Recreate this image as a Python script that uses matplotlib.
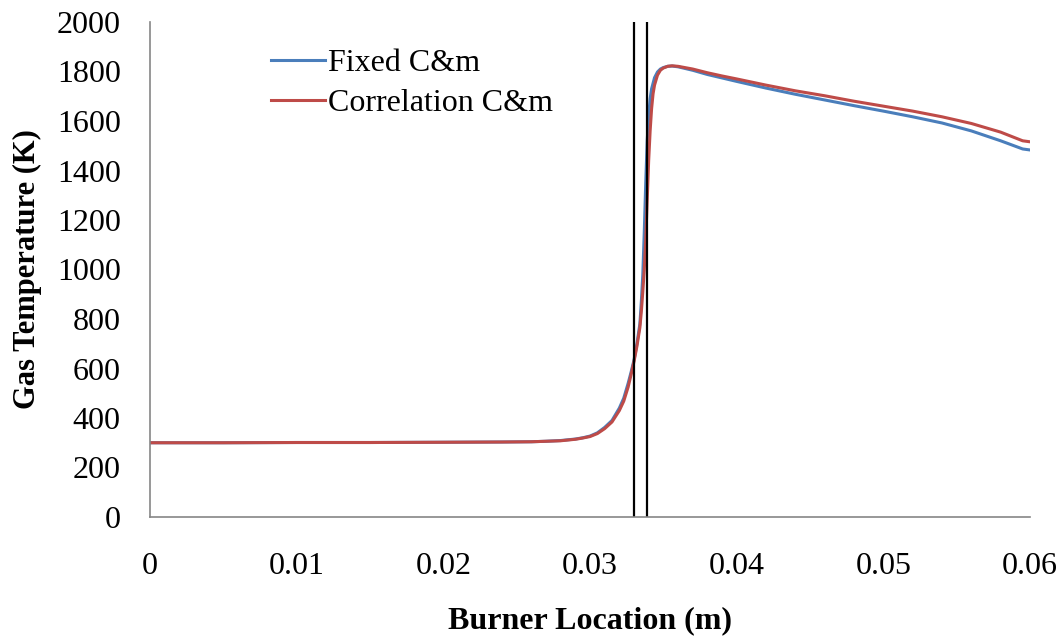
import matplotlib
matplotlib.use('Agg')
import matplotlib.pyplot as plt

# Burner location (m) and gas temperature (K)
x_fixed = [0, 0.005, 0.01, 0.015, 0.02, 0.024, 0.026, 0.027, 0.028, 0.029,
           0.0295, 0.0300, 0.0305, 0.0310, 0.0315, 0.0320, 0.0323, 0.0326,
           0.0328, 0.0330, 0.0332, 0.0334, 0.0335, 0.0336, 0.0337, 0.0338,
           0.0339, 0.0340, 0.0341, 0.0342, 0.0344, 0.0346, 0.0348, 0.0350,
           0.0353, 0.0356, 0.0360, 0.0370, 0.0380, 0.0390, 0.0400, 0.0420,
           0.0440, 0.0460, 0.0480, 0.0500, 0.0520, 0.0540, 0.0560, 0.0580,
           0.0595, 0.0600]
t_fixed = [300, 300, 301, 301, 302, 303, 304, 306, 309, 315,
           320, 327, 340, 362, 390, 440, 480, 540,
           585, 634, 700, 780, 870, 980, 1150, 1350,
           1520, 1620, 1690, 1730, 1775, 1798, 1810, 1816,
           1821, 1822, 1819, 1805, 1788, 1774, 1760, 1733,
           1708, 1685, 1662, 1640, 1617, 1592, 1560, 1520,
           1487, 1483]

x_corr = [0, 0.005, 0.01, 0.015, 0.02, 0.024, 0.026, 0.027, 0.028, 0.029,
          0.0295, 0.0300, 0.0305, 0.0310, 0.0315, 0.0320, 0.0323, 0.0326,
          0.0328, 0.0330, 0.0332, 0.0334, 0.0335, 0.0336, 0.0337, 0.0338,
          0.0339, 0.0340, 0.0341, 0.0342, 0.0343, 0.0344, 0.0346, 0.0348,
          0.0350, 0.0353, 0.0356, 0.0360, 0.0370, 0.0380, 0.0390, 0.0400,
          0.0420, 0.0440, 0.0460, 0.0480, 0.0500, 0.0520, 0.0540, 0.0560,
          0.0580, 0.0595, 0.0600]
t_corr = [300, 300, 301, 301, 302, 303, 304, 306, 308, 314,
          319, 325, 337, 357, 384, 430, 468, 525,
          575, 628, 690, 765, 830, 910, 1000, 1120,
          1280, 1440, 1560, 1650, 1710, 1745, 1785, 1805,
          1814, 1821, 1823, 1821, 1810, 1795, 1782, 1770,
          1745, 1722, 1702, 1680, 1660, 1640, 1617, 1590,
          1555, 1520, 1516]

# flame zone markers
flame_edges = [0.0330, 0.0339]

x_ticks = [0, 0.01, 0.02, 0.03, 0.04, 0.05, 0.06]
x_tick_labels = ['0', '0.01', '0.02', '0.03', '0.04', '0.05', '0.06']
y_ticks = list(range(0, 2001, 200))

plt.rcParams['font.family'] = ['Liberation Serif', 'DejaVu Serif']

fig = plt.figure(figsize=(10.58, 6.38), dpi=100)
ax = fig.add_axes([150 / 1058, 1 - 517 / 638, 880 / 1058, 495 / 638])

ax.plot(x_fixed, t_fixed, color='#4A7EBB', lw=2.2, label='Fixed C&m')
ax.plot(x_corr, t_corr, color='#BE4B48', lw=2.2, label='Correlation C&m')
for xe in flame_edges:
    ax.axvline(xe, color='black', lw=1.6)

ax.set_xlim(0, 0.06)
ax.set_ylim(0, 2000)
ax.set_xticks(x_ticks)
ax.set_xticklabels(x_tick_labels)
ax.set_yticks(y_ticks)
ax.tick_params(axis='both', length=0, labelsize=23)
ax.tick_params(axis='x', pad=25)
ax.tick_params(axis='y', pad=21)

for s in ['top', 'right']:
    ax.spines[s].set_visible(False)
for s in ['left', 'bottom']:
    ax.spines[s].set_color('#868686')
    ax.spines[s].set_linewidth(1.2)

ax.set_xlabel('Burner Location (m)', fontsize=23, fontweight='bold', labelpad=18)
ax.set_ylabel('Gas Temperature (K)', fontsize=22, fontweight='bold', labelpad=11)

fig.legend(loc='upper left', bbox_to_anchor=(271 / 1058, 1 - 49 / 638),
           frameon=False, fontsize=23, handlelength=1.7, handletextpad=0.1,
           labelspacing=0.32, borderpad=0, borderaxespad=0)

fig.savefig('out.png', dpi=100)
